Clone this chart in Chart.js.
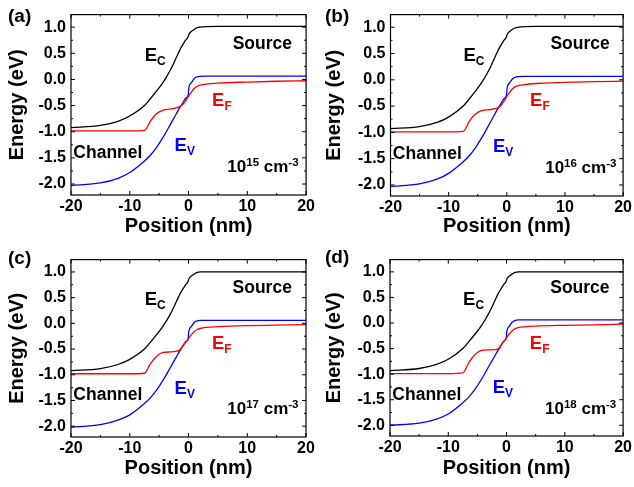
<!DOCTYPE html>
<html>
<head>
<meta charset="utf-8">
<script src="https://cdn.jsdelivr.net/npm/chart.js@4.4.1/dist/chart.umd.min.js"></script>
<style>
    body { margin: 0; background: #fff; }
    .panel { position: absolute; }
</style>
</head>
<body>
<div class="panel" id="pa" style="left:0px;top:0px;width:317px;height:245px"><canvas id="ca"></canvas></div>
<div class="panel" id="pb" style="left:317px;top:0px;width:317px;height:245px"><canvas id="cb"></canvas></div>
<div class="panel" id="pc" style="left:0px;top:245px;width:317px;height:242px"><canvas id="cc"></canvas></div>
<div class="panel" id="pd" style="left:317px;top:245px;width:317px;height:242px"><canvas id="cd"></canvas></div>
<script>
// position along the device (nm), shared by all panels
const posNm = [-20, -15, -12, -10, -7.5, -6.5, -5.5, -4.3, -3, -2, -1.5, -1, -0.5, -0.05, 0.05, 0.5, 1, 1.5, 2, 3, 5, 10, 15, 20];

// (a) 1e15 cm-3
const ecA = [-0.92, -0.88, -0.80, -0.70, -0.50, -0.37, -0.23, -0.05, 0.20, 0.44, 0.56, 0.66, 0.75, 0.82, 0.86, 0.92, 0.96, 0.99, 1.0, 1.01, 1.015, 1.015, 1.015, 1.015];
const efA = [-0.985, -0.985, -0.985, -0.985, -0.975, -0.80, -0.66, -0.585, -0.565, -0.54, -0.52, -0.48, -0.41, -0.33, -0.31, -0.24, -0.17, -0.13, -0.11, -0.09, -0.07, -0.05, -0.035, -0.025];
const evA = [-2.03, -1.98, -1.89, -1.78, -1.56, -1.45, -1.31, -1.10, -0.84, -0.64, -0.54, -0.45, -0.36, -0.29, -0.16, -0.06, 0.02, 0.05, 0.06, 0.065, 0.065, 0.065, 0.065, 0.065];

// (b) 1e16 cm-3
const ecB = [-0.93, -0.89, -0.81, -0.71, -0.50, -0.37, -0.23, -0.05, 0.20, 0.44, 0.56, 0.66, 0.75, 0.82, 0.86, 0.92, 0.96, 0.99, 1.0, 1.01, 1.015, 1.015, 1.015, 1.015];
const efB = [-0.99, -0.99, -0.99, -0.99, -0.98, -0.80, -0.66, -0.585, -0.57, -0.55, -0.53, -0.49, -0.41, -0.33, -0.31, -0.24, -0.17, -0.13, -0.11, -0.09, -0.07, -0.05, -0.035, -0.025];
const evB = [-2.03, -1.98, -1.89, -1.78, -1.56, -1.45, -1.31, -1.10, -0.84, -0.64, -0.54, -0.45, -0.36, -0.29, -0.16, -0.06, 0.02, 0.05, 0.06, 0.065, 0.065, 0.065, 0.065, 0.065];

// (c) 1e17 cm-3
const ecC = [-0.92, -0.88, -0.80, -0.70, -0.50, -0.37, -0.23, -0.05, 0.20, 0.44, 0.56, 0.66, 0.75, 0.82, 0.86, 0.92, 0.96, 0.99, 1.0, 1.0, 1.0, 1.0, 1.0, 1.0];
const efC = [-0.98, -0.98, -0.98, -0.98, -0.97, -0.79, -0.65, -0.565, -0.555, -0.54, -0.52, -0.44, -0.37, -0.31, -0.29, -0.22, -0.16, -0.12, -0.10, -0.08, -0.065, -0.045, -0.035, -0.025];
const evC = [-2.02, -1.97, -1.88, -1.78, -1.56, -1.45, -1.31, -1.10, -0.84, -0.64, -0.54, -0.45, -0.36, -0.29, -0.16, -0.06, 0.02, 0.05, 0.06, 0.06, 0.06, 0.06, 0.06, 0.06];

// (d) 1e18 cm-3
const ecD = [-0.93, -0.89, -0.81, -0.71, -0.50, -0.37, -0.23, -0.05, 0.20, 0.44, 0.56, 0.66, 0.75, 0.82, 0.86, 0.92, 0.96, 0.99, 1.0, 1.0, 1.0, 1.0, 1.0, 1.0];
const efD = [-0.99, -0.99, -0.99, -0.99, -0.975, -0.78, -0.63, -0.535, -0.525, -0.52, -0.51, -0.44, -0.36, -0.30, -0.28, -0.21, -0.15, -0.11, -0.09, -0.075, -0.06, -0.045, -0.035, -0.02];
const evD = [-2.0, -1.96, -1.88, -1.78, -1.56, -1.45, -1.31, -1.10, -0.84, -0.64, -0.54, -0.45, -0.36, -0.29, -0.16, -0.06, 0.02, 0.05, 0.06, 0.06, 0.06, 0.06, 0.06, 0.06];

const xTicks = [-20, -10, 0, 10, 20];
const xMinor = [-15, -5, 5, 15];
const yTicks = [-2.0, -1.5, -1.0, -0.5, 0.0, 0.5, 1.0];
const yMinor = [-2.25, -1.75, -1.25, -0.75, -0.25, 0.25, 0.75, 1.25];

const FONT = '"Liberation Sans", Arial, sans-serif';

function richText(ctx, parts, x, y) {
    let cx = x;
    parts.forEach(p => {
        ctx.font = 'bold ' + p[1] + 'px ' + FONT;
        ctx.fillText(p[0], cx, y + p[2]);
        cx += ctx.measureText(p[0]).width;
    });
}

// frame, inward ticks on all four sides, and the text labels
const bandDecor = {
    id: 'bandDecor',
    afterDatasetsDraw(chart, args, opts) {
        const { ctx, chartArea: a, scales: { x, y } } = chart;
        ctx.save();
        ctx.strokeStyle = '#000';
        ctx.lineWidth = 1.2;
        ctx.strokeRect(a.left, a.top, a.right - a.left, a.bottom - a.top);
        ctx.lineWidth = 1;
        ctx.beginPath();
        const tx = (v, len) => {
            const px = x.getPixelForValue(v);
            ctx.moveTo(px, a.bottom); ctx.lineTo(px, a.bottom - len);
            ctx.moveTo(px, a.top); ctx.lineTo(px, a.top + len);
        };
        const ty = (v, len) => {
            const py = y.getPixelForValue(v);
            if (py < a.top || py > a.bottom) return;
            ctx.moveTo(a.left, py); ctx.lineTo(a.left + len, py);
            ctx.moveTo(a.right, py); ctx.lineTo(a.right - len, py);
        };
        xTicks.forEach(v => tx(v, 4));
        xMinor.forEach(v => tx(v, 2));
        yTicks.forEach(v => ty(v, 4));
        yMinor.forEach(v => ty(v, 2));
        ctx.stroke();

        ctx.textBaseline = 'alphabetic';
        ctx.textAlign = 'left';
        const at = (vx, vy) => [x.getPixelForValue(vx), y.getPixelForValue(vy)];
        let p;
        ctx.fillStyle = '#000';
        richText(ctx, [[opts.tag, 19, 0]], 8, opts.tagY);
        p = at(7.5, 0.59);
        richText(ctx, [['Source', 17.5, 0]], p[0], p[1]);
        p = at(-19.6, -1.5);
        richText(ctx, [['Channel', 17.5, 0]], p[0], p[1]);
        p = at(6.6, -1.77);
        richText(ctx, [['10', 17, 0], [opts.exp, 11.5, -6], [' cm', 17, 0], ['-3', 11.5, -6]], p[0], p[1]);
        p = at(-7.46, 0.35);
        richText(ctx, [['E', 18.5, 0], ['C', 12, 4]], p[0], p[1]);
        ctx.fillStyle = '#ff0000';
        p = at(4.0, -0.5);
        richText(ctx, [['E', 18.5, 0], ['F', 12, 4]], p[0], p[1]);
        ctx.fillStyle = '#0000ff';
        p = at(-2.37, -1.376);
        richText(ctx, [['E', 18.5, 0], ['V', 12, 4]], p[0], p[1]);
        ctx.restore();
    }
};

function makePanel(id, ec, ef, ev, cfg) {
    const line = (data, color) => ({
        data: posNm.map((v, i) => ({ x: v, y: data[i] })),
        borderColor: color,
        borderWidth: 1.3,
        pointRadius: 0,
        cubicInterpolationMode: 'monotone',
        fill: false
    });
    new Chart(document.getElementById(id), {
        type: 'line',
        data: {
            datasets: [line(ec, '#000000'), line(ef, '#ff0000'), line(ev, '#0000ff')]
        },
        options: {
            responsive: true,
            maintainAspectRatio: false,
            animation: false,
            events: [],
            layout: { padding: { left: 0, top: cfg.top, right: cfg.right, bottom: 0 } },
            plugins: {
                legend: { display: false },
                tooltip: { enabled: false },
                bandDecor: { tag: cfg.tag, tagY: cfg.tagY, exp: cfg.exp }
            },
            scales: {
                x: {
                    type: 'linear',
                    min: -20, max: 20,
                    afterBuildTicks: s => { s.ticks = xTicks.map(v => ({ value: v })); },
                    afterFit: s => { s.height = cfg.xh; },
                    grid: { display: false, drawTicks: false },
                    border: { display: false },
                    ticks: { color: '#000', padding: 2, font: { family: FONT, size: 16, weight: 'bold' } },
                    title: { display: true, text: 'Position (nm)', color: '#000', padding: { top: 0, bottom: 7 }, font: { family: FONT, size: 20, weight: 'bold' } }
                },
                y: {
                    min: -2.21, max: 1.24,
                    afterBuildTicks: s => { s.ticks = yTicks.map(v => ({ value: v })); },
                    afterFit: s => { s.width = cfg.yw; },
                    grid: { display: false, drawTicks: false },
                    border: { display: false },
                    ticks: { color: '#000', padding: 5, callback: v => v.toFixed(1), font: { family: FONT, size: 16, weight: 'bold' } },
                    title: { display: true, text: 'Energy (eV)', color: '#000', padding: { top: 5, bottom: 0 }, font: { family: FONT, size: 20, weight: 'bold' } }
                }
            }
        },
        plugins: [bandDecor]
    });
}

makePanel('ca', ecA, efA, evA, { tag: '(a)', tagY: 22, exp: '15', top: 6, right: 10, yw: 71, xh: 50 });
makePanel('cb', ecB, efB, evB, { tag: '(b)', tagY: 22, exp: '16', top: 6, right: 8, yw: 73.5, xh: 49 });
makePanel('cc', ecC, efC, evC, { tag: '(c)', tagY: 19, exp: '17', top: 3, right: 11, yw: 71, xh: 50 });
makePanel('cd', ecD, efD, evD, { tag: '(d)', tagY: 18, exp: '18', top: 2, right: 8, yw: 73, xh: 51 });
</script>
</body>
</html>
